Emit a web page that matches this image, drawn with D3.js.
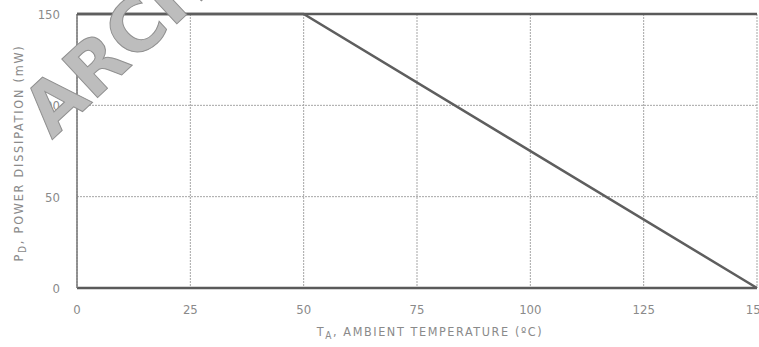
<!DOCTYPE html>
<html>
<head>
<meta charset="utf-8">
<script src="https://cdn.jsdelivr.net/npm/d3@7"></script>
<style>
  body { margin: 0; background: #fff; }
  text { font-family: "DejaVu Sans Condensed", "Liberation Sans Narrow", "DejaVu Sans", sans-serif; font-stretch: condensed; fill: #8a8a8a; }
</style>
</head>
<body>
<svg id="chart" width="759" height="347"></svg>
<script>
const tempTicks = [0, 25, 50, 75, 100, 125, 150];
const powerTicks = [0, 50, 100, 150];
const deratingTemp = [0, 50, 150];
const deratingPower = [150, 150, 0];

const width = 759, height = 347;
const margin = { top: 14, right: 2, bottom: 59, left: 77 };

const svg = d3.select("#chart");

const x = d3.scaleLinear().domain([0, 150]).range([margin.left, width - margin.right]);
const y = d3.scaleLinear().domain([0, 150]).range([height - margin.bottom, margin.top]);

// grid
const grid = svg.append("g");
grid.selectAll(".vgrid")
  .data(tempTicks)
  .enter()
  .append("line")
  .attr("x1", d => x(d)).attr("x2", d => x(d))
  .attr("y1", y(150)).attr("y2", y(0))
  .attr("stroke", "#a5a5a5")
  .attr("stroke-width", 1)
  .attr("stroke-dasharray", "2,1");

grid.selectAll(".hgrid")
  .data(powerTicks)
  .enter()
  .append("line")
  .attr("x1", x(0)).attr("x2", x(150))
  .attr("y1", d => y(d)).attr("y2", d => y(d))
  .attr("stroke", d => (d === 0 || d === 150) ? "#5a5a5a" : "#a5a5a5")
  .attr("stroke-width", d => (d === 0 || d === 150) ? 2.5 : 1)
  .attr("stroke-dasharray", d => (d === 0 || d === 150) ? null : "2,1");

// left frame
svg.append("line")
  .attr("x1", x(0)).attr("x2", x(0))
  .attr("y1", y(150)).attr("y2", y(0))
  .attr("stroke", "#777").attr("stroke-width", 1.5);

// derating curve
const pts = deratingTemp.map((t, i) => [t, deratingPower[i]]);
svg.append("path")
  .datum(pts)
  .attr("fill", "none")
  .attr("stroke", "#5e5e5e")
  .attr("stroke-width", 2.5)
  .attr("d", d3.line().x(d => x(d[0])).y(d => y(d[1])));

// tick labels
svg.append("g").selectAll("text")
  .data(tempTicks)
  .enter()
  .append("text")
  .attr("x", d => x(d))
  .attr("y", 314)
  .attr("text-anchor", "middle")
  .attr("font-size", 13)
  .text(d => d);

svg.append("g").selectAll("text")
  .data(powerTicks)
  .enter()
  .append("text")
  .attr("x", 60)
  .attr("y", d => y(d) + 5)
  .attr("text-anchor", "end")
  .attr("font-size", 13)
  .text(d => d);

// watermark
svg.append("text")
  .attr("transform", "translate(52,140) rotate(-43)")
  .attr("font-size", 72)
  .attr("font-weight", "bold")
  .style("font-family", "DejaVu Sans, sans-serif")
  .style("font-stretch", "normal")
  .style("fill", "#bdbdbd")
  .style("stroke", "#8f8f8f")
  .style("stroke-width", 1)
  .text("ARCHIVED");

// axis titles
const xt = svg.append("text")
  .attr("x", 430)
  .attr("y", 336)
  .attr("text-anchor", "middle")
  .attr("font-size", 12.5)
  .style("letter-spacing", "1.6px");
xt.append("tspan").text("T");
xt.append("tspan").attr("dy", 3).attr("font-size", 10).text("A");
xt.append("tspan").attr("dy", -3).text(", AMBIENT TEMPERATURE (\u00BAC)");

const yt = svg.append("text")
  .attr("transform", "translate(23,153) rotate(-90)")
  .attr("text-anchor", "middle")
  .attr("font-size", 12.5)
  .style("letter-spacing", "1.8px");
yt.append("tspan").text("P");
yt.append("tspan").attr("dy", 3).attr("font-size", 10).text("D");
yt.append("tspan").attr("dy", -3).text(", POWER DISSIPATION (mW)");
</script>
</body>
</html>
